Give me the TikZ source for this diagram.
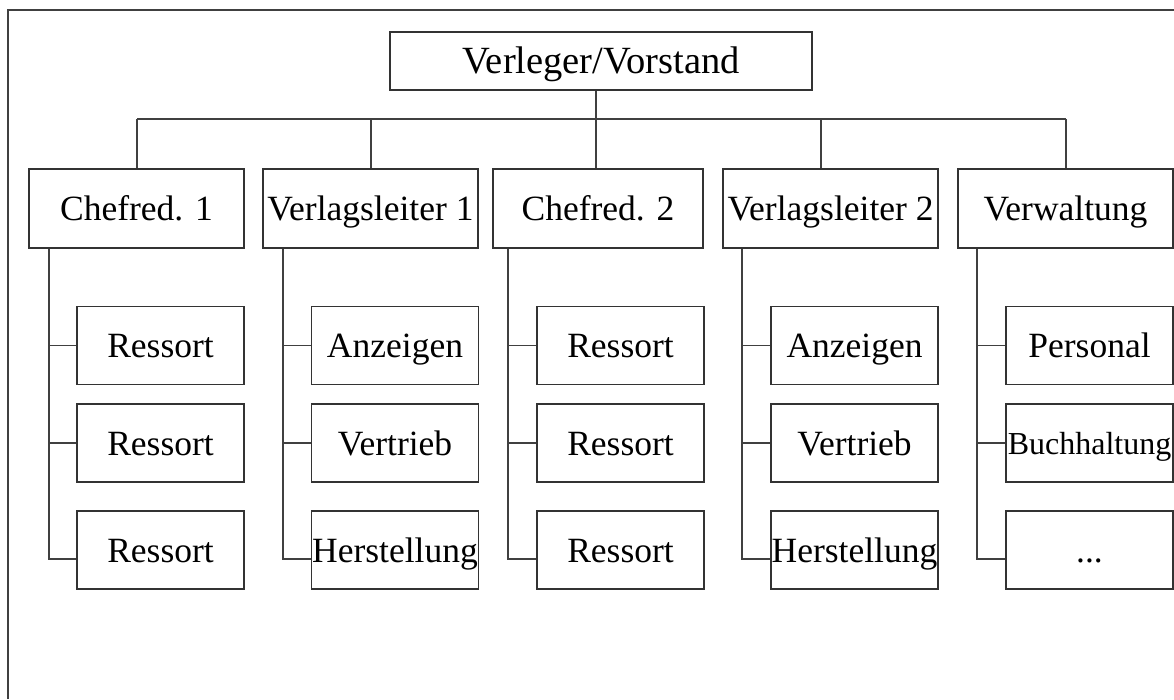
\documentclass[tikz,border=0pt]{standalone}
\usepackage{fontspec}
\setmainfont{Liberation Serif}
\begin{document}
\begin{tikzpicture}[x=1pt,y=-1pt,line width=1.3pt,
  box/.style={draw=black!80,rectangle,inner sep=0pt,text height=24pt,text depth=0pt,font=\fontsize{35.5}{40}\selectfont},
  lvl/.style={box,minimum width=215pt,minimum height=79pt},
  sub/.style={box,minimum width=167pt,minimum height=78pt},
  conn/.style={draw=black!75}]
\useasboundingbox (0,0) rectangle (1174,699);
\draw[black!75] (8,699) -- (8,10) -- (1174,10);

\node[box,minimum width=422pt,minimum height=58pt,text height=25pt,font=\fontsize{38.5}{42}\selectfont] (top) at (601,61) {Verleger/Vorstand};

\node[lvl] (l1) at (136.5,208.5) {Chefred. 1};
\node[lvl] (l2) at (370.5,208.5) {Verlagsleiter 1};
\node[lvl,minimum width=210pt] (l3) at (598,208.5) {Chefred. 2};
\node[lvl] (l4) at (830.5,208.5) {Verlagsleiter 2};
\node[lvl] (l5) at (1065.5,208.5) {Verwaltung};

\node[sub] (r11) at (160.5,345.5) {Ressort};
\node[sub] (r12) at (160.5,443) {Ressort};
\node[sub] (r13) at (160.5,550) {Ressort};
\node[sub] (r21) at (395,345.5) {Anzeigen};
\node[sub] (r22) at (395,443) {Vertrieb};
\node[sub] (r23) at (395,550) {Herstellung};
\node[sub] (r31) at (620.5,345.5) {Ressort};
\node[sub] (r32) at (620.5,443) {Ressort};
\node[sub] (r33) at (620.5,550) {Ressort};
\node[sub] (r41) at (854.5,345.5) {Anzeigen};
\node[sub] (r42) at (854.5,443) {Vertrieb};
\node[sub] (r43) at (854.5,550) {Herstellung};
\node[sub] (r51) at (1089.5,345.5) {Personal};
\node[sub,font=\fontsize{32}{36}\selectfont,text height=22pt] (r52) at (1089.5,443) {Buchhaltung};
\node[sub] (r53) at (1089.5,550) {...};

\coordinate (b1) at (137,119);
\coordinate (b2) at (371,119);
\coordinate (b3) at (596,119);
\coordinate (b4) at (821,119);
\coordinate (b5) at (1066,119);
\draw[conn] (top.south -| b3) -- (b3);
\draw[conn] (b1) -- (b5);
\foreach \i in {1,...,5}{
  \draw[conn] (b\i) -- (b\i |- l\i.north);
}

\coordinate (t1) at (49,248);
\coordinate (t2) at (283,248);
\coordinate (t3) at (508,248);
\coordinate (t4) at (742,248);
\coordinate (t5) at (977,248);
\foreach \i in {1,...,5}{
  \draw[conn] (t\i |- l\i.south) |- ([yshift=-9pt]r\i3.west);
  \draw[conn] (t\i |- r\i1.west) -- (r\i1.west);
  \draw[conn] (t\i |- r\i2.west) -- (r\i2.west);
}
\end{tikzpicture}
\end{document}
